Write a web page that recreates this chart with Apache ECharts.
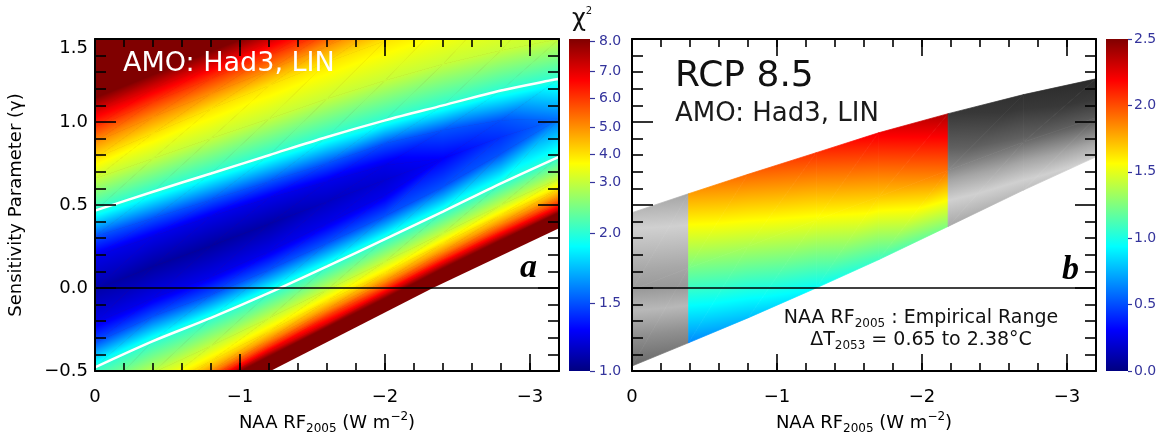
<!DOCTYPE html>
<html>
<head>
<meta charset="utf-8">
<title>NAA RF2005 chi-square and RCP 8.5 warming</title>
<script src="https://cdn.jsdelivr.net/npm/echarts@6/dist/echarts.min.js"></script>
<style>
  html, body { margin: 0; padding: 0; background: #fff; }
  #chart { width: 1167px; height: 432px; }
</style>
</head>
<body>
<div id="chart"></div>
<script>
const xCols     = [0, -0.4, -0.8, -1.2, -1.6, -2.0, -2.4, -2.8, -3.2];
const valleyY   = [-0.01, 0.13, 0.255, 0.385, 0.52, 0.65, 0.78, 0.91, 1.02];
const valleyChi = [1.10, 1.08, 1.08, 1.10, 1.16, 1.20, 1.30, 1.42, 1.58];
const chiLevels = [1.25, 1.5, 2, 3, 4, 5, 6, 7, 8];
// y of each level above the valley (one row per level)
const upperY = [
  [0.19, 0.31, 0.43, 0.54, 0.64, 0.74, 0.78, 0.91, 1.02],
  [0.31, 0.42, 0.53, 0.64, 0.75, 0.87, 0.95, 1.01, 1.02],
  [0.466, 0.58, 0.69, 0.80, 0.91, 1.01, 1.10, 1.19, 1.26],
  [0.66, 0.78, 0.90, 1.02, 1.14, 1.25, 1.35, 1.43, 1.50],
  [0.78, 0.93, 1.08, 1.22, 1.36, 1.49, 1.61, 1.72, 1.82],
  [0.88, 1.03, 1.17, 1.31, 1.46, 1.60, 1.74, 1.87, 1.98],
  [0.97, 1.12, 1.26, 1.40, 1.54, 1.69, 1.84, 1.98, 2.10],
  [1.06, 1.20, 1.34, 1.48, 1.62, 1.77, 1.92, 2.06, 2.20],
  [1.14, 1.28, 1.42, 1.56, 1.70, 1.85, 2.00, 2.15, 2.30]
];
// y of each level below the valley
const lowerY = [
  [-0.21, -0.06, 0.07, 0.22, 0.39, 0.56, 0.78, 0.91, 1.02],
  [-0.33, -0.17, -0.04, 0.11, 0.27, 0.433, 0.61, 0.81, 1.02],
  [-0.478, -0.32, -0.18, -0.03, 0.13, 0.295, 0.46, 0.63, 0.79],
  [-0.68, -0.51, -0.35, -0.18, -0.01, 0.16, 0.33, 0.50, 0.66],
  [-0.79, -0.62, -0.44, -0.26, -0.08, 0.09, 0.27, 0.44, 0.60],
  [-0.87, -0.69, -0.50, -0.31, -0.13, 0.04, 0.22, 0.39, 0.55],
  [-0.91, -0.73, -0.54, -0.35, -0.17, 0.00, 0.18, 0.35, 0.51],
  [-0.93, -0.75, -0.57, -0.38, -0.21, -0.03, 0.15, 0.32, 0.48],
  [-0.95, -0.77, -0.59, -0.41, -0.235, -0.06, 0.12, 0.29, 0.456]
];
// no-data corner (white)
const maskX = [-1.21, -2.33, -3.2, -3.2];
const maskY = [-0.5, 0, 0.36, -0.5];

// colour bar of panel a (labels and where they sit on the bar, 0 = bottom, 1 = top)
const cbChiVals = [1.0, 1.5, 2.0, 3.0, 4.0, 5.0, 6.0, 7.0, 8.0];
const cbChiPos  = [0, 0.2045, 0.416, 0.569, 0.6526, 0.735, 0.8218, 0.904, 0.992];

// ---- panel b : warming over the chi2 < 2 band ----
const bCols = [0, -0.39, -0.8, -1.27, -1.7, -2.18, -2.7, -3.2];
const bBotY = [-0.47, -0.33, -0.18, 0.0, 0.17, 0.371, 0.59, 0.79];
const bMidY = [-0.01, 0.12, 0.25, 0.41, 0.55, 0.71, 0.88, 1.025];
const bTopY = [0.454, 0.568, 0.685, 0.815, 0.935, 1.05, 1.165, 1.26];
const bBotT = [0.52, 0.65, 0.78, 0.95, 1.09, 1.25, 1.43, 1.60];
const bMidT = [1.10, 1.23, 1.36, 1.53, 1.70, 1.92, 2.05, 2.15];
const bTopT = [1.68, 1.80, 1.93, 2.07, 2.22, 2.38, 2.52, 2.62];
const empRange = [-0.39, -2.18];
// grey shading outside the empirical range
const greyV = [0.0, 0.52, 0.75, 0.94, 1.10, 1.25, 1.56, 1.80, 2.10, 2.38, 2.70];
const greyL = [40, 106, 144, 184, 153, 168, 208, 165, 96, 56, 38];

const xMajor = [0, -1, -2, -3];

const FONT = 'DejaVu Sans';
const NAVY = '#34349c';
const JET_BREAKS = [0.125, 0.375, 0.625, 0.875];

function clamp01(v) { return v < 0 ? 0 : (v > 1 ? 1 : v); }
function jet(t) {
  t = clamp01(t);
  const r = clamp01(Math.min(4 * t - 1.5, -4 * t + 4.5));
  const g = clamp01(Math.min(4 * t - 0.5, -4 * t + 3.5));
  const b = clamp01(Math.min(4 * t + 0.5, -4 * t + 2.5));
  return 'rgb(' + Math.round(r * 255) + ',' + Math.round(g * 255) + ',' + Math.round(b * 255) + ')';
}
function interp(xs, ys, v) {
  if (v <= xs[0]) return ys[0];
  for (let k = 1; k < xs.length; k++) {
    if (v <= xs[k]) return ys[k - 1] + (v - xs[k - 1]) / (xs[k] - xs[k - 1]) * (ys[k] - ys[k - 1]);
  }
  return ys[ys.length - 1];
}
function tOfChi(v) {
  if (v > 8) return Math.min(1, 0.992 + (v - 8) * 0.088);
  return interp(cbChiVals, cbChiPos, v);
}
function greyAt(v) {
  const g = Math.round(interp(greyV, greyL, v));
  return 'rgb(' + g + ',' + g + ',' + g + ')';
}
function minusFmt(v, digits) {
  const s = Math.abs(v).toFixed(digits);
  return v < -1e-9 ? '\u2212' + s : s;
}

// one triangle, value linear inside it -> linear gradient along the value gradient
function shadeTri(p, v, colorAt, breaks) {
  const e1x = p[1][0] - p[0][0], e1y = p[1][1] - p[0][1];
  const e2x = p[2][0] - p[0][0], e2y = p[2][1] - p[0][1];
  const det = e1x * e2y - e1y * e2x;
  if (Math.abs(det) < 1e-4) return null;
  const d1 = v[1] - v[0], d2 = v[2] - v[0];
  const gx = (d1 * e2y - d2 * e1y) / det;
  const gy = (e1x * d2 - e2x * d1) / det;
  const gl = Math.sqrt(gx * gx + gy * gy);
  const vmin = Math.min(v[0], v[1], v[2]), vmax = Math.max(v[0], v[1], v[2]);
  let fill;
  if (gl < 1e-9 || vmax - vmin < 1e-6) {
    fill = colorAt((vmin + vmax) / 2);
  } else {
    const ux = gx / gl, uy = gy / gl;
    const s0 = (vmin - v[0]) / gl, s1 = (vmax - v[0]) / gl;
    const stops = [{offset: 0, color: colorAt(vmin)}];
    breaks.forEach(function (b) {
      if (b > vmin && b < vmax) stops.push({offset: (b - vmin) / (vmax - vmin), color: colorAt(b)});
    });
    stops.push({offset: 1, color: colorAt(vmax)});
    fill = new echarts.graphic.LinearGradient(
      p[0][0] + ux * s0, p[0][1] + uy * s0, p[0][0] + ux * s1, p[0][1] + uy * s1, stops, true);
  }
  return {type: 'polygon', shape: {points: p}, style: {fill: fill, stroke: fill, lineWidth: 0.7}};
}

// panel a mesh: stops from bottom to top in each column
const aStopsY = lowerY.slice().reverse().concat([valleyY], upperY);
const aStopsL = chiLevels.slice().reverse().concat([null], chiLevels);
function aValue(i, j) {
  const L = aStopsL[i];
  return L === null ? valleyChi[j] : Math.max(L, valleyChi[j]);
}
const aQuads = [];
for (let j = 0; j < xCols.length - 1; j++)
  for (let i = 0; i < aStopsY.length - 1; i++) aQuads.push([j, i]);

const bStopsY = [bBotY, bMidY, bTopY];
const bStopsT = [bBotT, bMidT, bTopT];
const bQuads = [];
for (let j = 0; j < bCols.length - 1; j++)
  for (let i = 0; i < bStopsY.length - 1; i++) bQuads.push([j, i]);

function renderA(params, api) {
  const j = api.value(0), i = api.value(1);
  const P = (jj, ii) => api.coord([xCols[jj], aStopsY[ii][jj]]);
  const T = (jj, ii) => tOfChi(aValue(ii, jj));
  const A = P(j, i), B = P(j + 1, i), C = P(j + 1, i + 1), D = P(j, i + 1);
  const tA = T(j, i), tB = T(j + 1, i), tC = T(j + 1, i + 1), tD = T(j, i + 1);
  const kids = [shadeTri([A, B, C], [tA, tB, tC], jet, JET_BREAKS),
                shadeTri([A, C, D], [tA, tC, tD], jet, JET_BREAKS)].filter(Boolean);
  return {type: 'group', children: kids};
}

function renderB(params, api) {
  const j = api.value(0), i = api.value(1);
  const mid = (bCols[j] + bCols[j + 1]) / 2;
  const inEmp = mid < empRange[0] && mid > empRange[1];
  const P = (jj, ii) => api.coord([bCols[jj], bStopsY[ii][jj]]);
  const V = (jj, ii) => inEmp ? bStopsT[ii][jj] / 2.5 : bStopsT[ii][jj];
  const colorAt = inEmp ? jet : greyAt;
  const breaks = inEmp ? JET_BREAKS : greyV;
  const A = P(j, i), B = P(j + 1, i), C = P(j + 1, i + 1), D = P(j, i + 1);
  const vA = V(j, i), vB = V(j + 1, i), vC = V(j + 1, i + 1), vD = V(j, i + 1);
  const kids = [shadeTri([A, B, C], [vA, vB, vC], colorAt, breaks),
                shadeTri([A, C, D], [vA, vC, vD], colorAt, breaks)].filter(Boolean);
  return {type: 'group', children: kids};
}

function barGradient() {
  return new echarts.graphic.LinearGradient(0, 1, 0, 0,
    [0, 0.125, 0.375, 0.625, 0.875, 1].map(t => ({offset: t, color: jet(t)})));
}
function renderBar(params, api) {
  const lo = api.coord([0, api.value(0)]), hi = api.coord([1, api.value(1)]);
  return {type: 'rect', shape: {x: lo[0], y: hi[1], width: hi[0] - lo[0], height: lo[1] - hi[1]},
          style: {fill: barGradient()}};
}

const tickLine = {color: '#000', width: 1.6};
const titleStyle = {
  fontSize: 18, lineHeight: 24, color: '#000', fontFamily: FONT,
  rich: {
    s: {fontSize: 12, lineHeight: 12, verticalAlign: 'bottom', fontFamily: FONT, color: '#000'},
    p: {fontSize: 12, lineHeight: 12, verticalAlign: 'top', fontFamily: FONT, color: '#000'}
  }
};

function panelXAxes(gi) {
  const out = [];
  ['bottom', 'top'].forEach(function (pos) {
    const lab = pos === 'bottom';
    out.push({
      gridIndex: gi, type: 'value', position: pos, min: -3.2, max: 0, inverse: true, interval: 0.2, z: 10,
      axisLine: {show: true, onZero: false, lineStyle: {color: '#000', width: 2}},
      axisTick: {show: true, inside: true, length: 8, lineStyle: tickLine},
      axisLabel: lab ? {customValues: xMajor, margin: 17, fontSize: 18, fontFamily: FONT, color: '#000',
                        formatter: v => minusFmt(v, 0)} : {show: false},
      splitLine: {show: false},
      name: lab ? 'NAA RF{s|2005} (W m{p|\u22122})' : '',
      nameLocation: 'middle', nameGap: 37, nameTextStyle: titleStyle
    });
    out.push({
      gridIndex: gi, type: 'value', position: pos, min: -3.2, max: 0, inverse: true, z: 10,
      axisLine: {show: false, onZero: false},
      axisTick: {show: true, inside: true, length: 17, customValues: xMajor, lineStyle: tickLine},
      axisLabel: {show: false}, splitLine: {show: false}
    });
  });
  return out;
}

function panelYAxes(gi, withLabels) {
  return ['left', 'right'].map(function (pos) {
    const lab = withLabels && pos === 'left';
    return {
      gridIndex: gi, type: 'value', position: pos, min: -0.5, max: 1.5, interval: 0.5, z: 10,
      axisLine: {show: true, onZero: false, lineStyle: {color: '#000', width: 2}},
      axisTick: {show: true, inside: true, length: 21, lineStyle: tickLine},
      minorTick: {show: true, splitNumber: 5, length: 11, lineStyle: tickLine},
      axisLabel: lab ? {margin: 7, fontSize: 18, fontFamily: FONT, color: '#000',
                        verticalAlignMaxLabel: 'top',
                        formatter: v => minusFmt(v, 1)} : {show: false},
      splitLine: {show: false}, minorSplitLine: {show: false},
      name: lab ? 'Sensitivity Parameter (\u03b3)' : '',
      nameLocation: 'middle', nameGap: 70, nameRotate: 90,
      nameTextStyle: {fontSize: 18, color: '#000', fontFamily: FONT}
    };
  });
}

const chart = echarts.init(document.getElementById('chart'));

const zeroLine = {
  symbol: 'none', silent: true, label: {show: false},
  lineStyle: {color: '#000', width: 1.5, type: 'solid'},
  data: [{yAxis: 0}]
};
const lev2 = chiLevels.indexOf(2);
const gridBase = {outerBoundsMode: 'none', containLabel: false};

chart.setOption({
  animation: false,
  backgroundColor: '#fff',
  grid: [
    Object.assign({left: 95, top: 39, width: 464, height: 332, show: true, backgroundColor: jet(1), borderWidth: 0}, gridBase),
    Object.assign({left: 632, top: 39, width: 464, height: 332}, gridBase),
    Object.assign({left: 569, top: 39, width: 21, height: 332}, gridBase),
    Object.assign({left: 1106, top: 39, width: 22, height: 332}, gridBase)
  ],
  xAxis: panelXAxes(0).concat(panelXAxes(1), [
    {gridIndex: 2, type: 'value', min: 0, max: 1, show: false},
    {gridIndex: 3, type: 'value', min: 0, max: 1, show: false}
  ]),
  yAxis: panelYAxes(0, true).concat(panelYAxes(1, false), [
    {
      gridIndex: 2, type: 'value', min: 0, max: 1, position: 'right',
      axisLine: {show: false, onZero: false},
      axisTick: {show: true, customValues: cbChiPos, length: 5, lineStyle: {color: NAVY, width: 1.2}},
      axisLabel: {customValues: cbChiPos, margin: 9, fontSize: 14, fontFamily: FONT, color: NAVY,
                  formatter: function (v) {
                    const k = cbChiPos.findIndex(t => Math.abs(t - v) < 1e-6);
                    return k < 0 ? '' : cbChiVals[k].toFixed(1);
                  }},
      splitLine: {show: false}
    },
    {
      gridIndex: 3, type: 'value', min: 0, max: 2.5, interval: 0.5, position: 'right',
      axisLine: {show: false, onZero: false},
      axisTick: {show: true, length: 4, lineStyle: {color: NAVY, width: 1.2}},
      axisLabel: {margin: 6, fontSize: 14, fontFamily: FONT, color: NAVY, formatter: v => v.toFixed(1)},
      splitLine: {show: false}
    }
  ]),
  series: [
    {type: 'custom', name: 'chi2', xAxisIndex: 0, yAxisIndex: 0, clip: true, silent: true,
     data: aQuads, renderItem: renderA, z: 2},
    {type: 'custom', name: 'mask', xAxisIndex: 0, yAxisIndex: 0, clip: true, silent: true,
     data: [0], z: 2,
     renderItem: function (params, api) {
       return {type: 'polygon', shape: {points: maskX.map((x, k) => api.coord([x, maskY[k]]))},
               style: {fill: '#fff'}};
     }},
    {type: 'line', name: 'upper2', xAxisIndex: 0, yAxisIndex: 0, z: 3, silent: true, smooth: 0.3,
     showSymbol: false, lineStyle: {color: '#fff', width: 2.5},
     data: xCols.map((x, k) => [x, upperY[lev2][k]])},
    {type: 'line', name: 'lower2', xAxisIndex: 0, yAxisIndex: 0, z: 3, silent: true, smooth: 0.3,
     showSymbol: false, lineStyle: {color: '#fff', width: 2.5},
     data: xCols.map((x, k) => [x, lowerY[lev2][k]])},
    {type: 'line', name: 'zeroA', xAxisIndex: 0, yAxisIndex: 0, z: 4, data: [], markLine: zeroLine},
    {type: 'custom', name: 'dT', xAxisIndex: 4, yAxisIndex: 2, clip: true, silent: true,
     data: bQuads, renderItem: renderB, z: 2},
    {type: 'line', name: 'zeroB', xAxisIndex: 4, yAxisIndex: 2, z: 4, data: [], markLine: zeroLine},
    {type: 'custom', name: 'barA', xAxisIndex: 8, yAxisIndex: 4, silent: true,
     data: [[0, 1]], renderItem: renderBar},
    {type: 'custom', name: 'barB', xAxisIndex: 9, yAxisIndex: 5, silent: true,
     data: [[0, 2.5]], renderItem: renderBar}
  ],
  graphic: [
    {type: 'text', x: 123, y: 64, z: 100,
     style: {text: 'AMO: Had3, LIN', fill: '#fff', fontSize: 27, fontFamily: FONT, verticalAlign: 'middle'}},
    {type: 'text', x: 675, y: 77, z: 100,
     style: {text: 'RCP 8.5', fill: '#111', fontSize: 36, fontFamily: FONT, verticalAlign: 'middle'}},
    {type: 'text', x: 675, y: 114, z: 100,
     style: {text: 'AMO: Had3, LIN', fill: '#1a1a1a', fontSize: 26, fontFamily: FONT, verticalAlign: 'middle'}},
    {type: 'text', x: 537, y: 268, z: 100,
     style: {text: 'a', fill: '#000', fontSize: 34, fontFamily: 'Liberation Serif', fontWeight: 'bold',
             fontStyle: 'italic', align: 'right', verticalAlign: 'middle'}},
    {type: 'text', x: 1079, y: 270, z: 100,
     style: {text: 'b', fill: '#000', fontSize: 34, fontFamily: 'Liberation Serif', fontWeight: 'bold',
             fontStyle: 'italic', align: 'right', verticalAlign: 'middle'}},
    {type: 'text', x: 921, y: 318, z: 100,
     style: {text: 'NAA RF{s|2005} : Empirical Range', fill: '#111', fontSize: 19, lineHeight: 24,
             fontFamily: FONT, align: 'center', verticalAlign: 'middle', rich: titleStyle.rich}},
    {type: 'text', x: 921, y: 340, z: 100,
     style: {text: '\u0394T{s|2053} = 0.65 to 2.38\u00b0C', fill: '#111', fontSize: 19, lineHeight: 24,
             fontFamily: FONT, align: 'center', verticalAlign: 'middle', rich: titleStyle.rich}},
    {type: 'text', x: 572, y: 20, z: 100,
     style: {text: '\u03c7{p|2}', fill: '#111', fontSize: 24, lineHeight: 28, fontFamily: FONT,
             verticalAlign: 'middle',
             rich: {p: {fontSize: 10, lineHeight: 10, verticalAlign: 'top', fontFamily: FONT, fill: '#111'}}}}
  ]
});
</script>
</body>
</html>
